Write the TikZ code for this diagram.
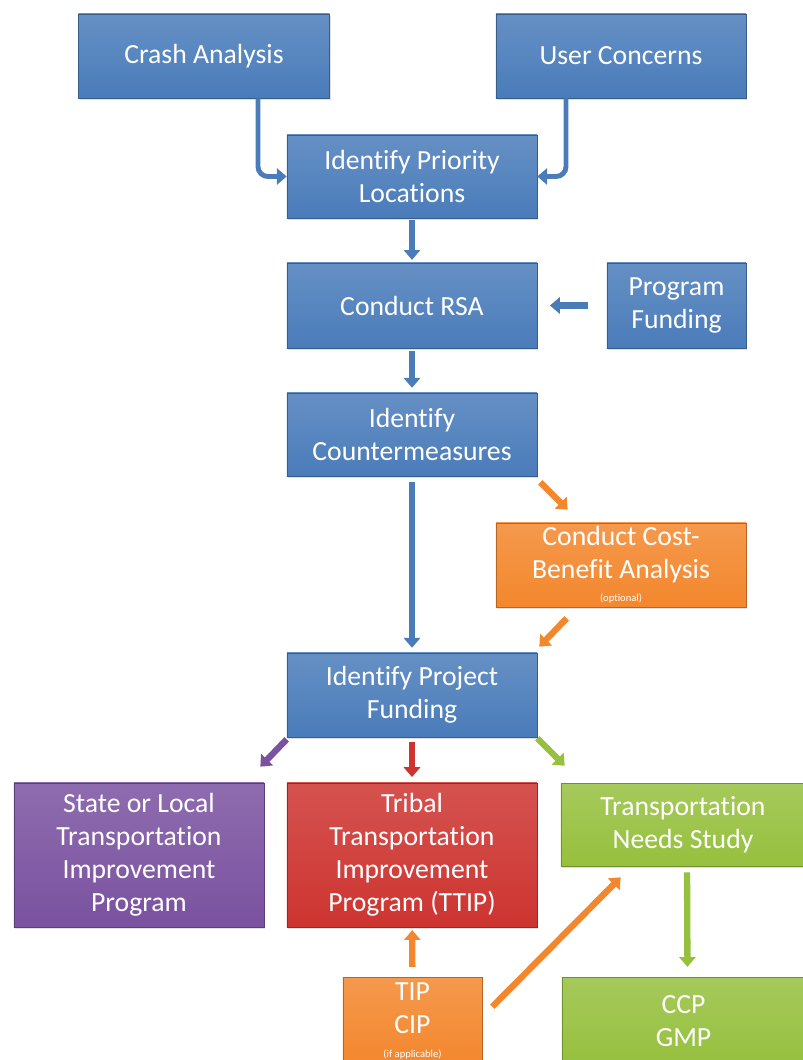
\documentclass[tikz,border=0pt]{standalone}
\usepackage{fontspec}
\setmainfont{Carlito}[Ligatures=NoCommon]
\usepackage{xcolor}
\usetikzlibrary{arrows.meta,shadows}
\definecolor{fblue}{RGB}{74,124,186}
\definecolor{forange}{RGB}{243,135,45}
\definecolor{fred}{RGB}{205,52,48}
\definecolor{fpurple}{RGB}{122,82,160}
\definecolor{fgreen}{RGB}{150,192,62}
\newcommand{\smalltext}{\fontsize{7.5}{8}\selectfont}

\begin{document}
\begin{tikzpicture}[x=0.025cm,y=-0.025cm,
  blockbox/.style={draw=#1!75!black, top color=#1!85!white, bottom color=#1, text=white, align=center, inner sep=0pt,
    font=\fontsize{19.7}{23.5}\selectfont, drop shadow={opacity=0.25,shadow xshift=1pt,shadow yshift=-1.5pt}},
  arr/.style={line width=4.5pt, draw=#1, -{Triangle[length=7pt,width=11.5pt]}}]
\useasboundingbox (0,0) rectangle (803,1060);
\clip (0,0) rectangle (803,1060);
% top rows
\node[blockbox=fblue, minimum width=6.275cm, minimum height=2.1cm] (crash) at (204,56) {Crash Analysis};
\node[blockbox=fblue, minimum width=6.25cm, minimum height=2.1cm] (user) at (621,56) {User Concerns};
\node[blockbox=fblue, minimum width=6.25cm, minimum height=2.075cm] (priority) at (412,176.5) {Identify Priority\\Locations};
\node[blockbox=fblue, minimum width=6.25cm, minimum height=2.125cm] (rsa) at (412,305.5) {Conduct RSA};
\node[blockbox=fblue, minimum width=3.475cm, minimum height=2.125cm] (progfund) at (676.5,305.5) {Program\\Funding};
\node[blockbox=fblue, minimum width=6.25cm, minimum height=2.075cm] (counter) at (412,434.5) {Identify\\Countermeasures};
\node[blockbox=forange, minimum width=6.25cm, minimum height=2.1cm] (cba) at (621,565) {Conduct Cost-\\Benefit Analysis\\[-7pt]{\smalltext (optional)}};
\node[blockbox=fblue, minimum width=6.25cm, minimum height=2.1cm] (projfund) at (412,695) {Identify Project\\Funding};
% programs
\node[blockbox=fpurple, minimum width=6.25cm, minimum height=3.6cm] (state) at (139,855) {State or Local\\Transportation\\Improvement\\Program};
\node[blockbox=fred, minimum width=6.25cm, minimum height=3.6cm] (ttip) at (412,855) {Tribal\\Transportation\\Improvement\\Program (TTIP)};
\node[blockbox=fgreen, minimum width=6.1cm, minimum height=2.075cm] (needs) at (683,824.5) {Transportation\\Needs Study};
\node[blockbox=forange, minimum width=3.475cm, minimum height=2.2cm] (tip) at (412.5,1021) {TIP\\CIP\\[-7pt]{\smalltext (if applicable)}};
\node[blockbox=fgreen, minimum width=6.075cm, minimum height=2.2cm] (ccp) at (683.5,1021) {CCP\\GMP};
% arrows
\draw[arr=fblue, line width=3.5pt, rounded corners=7pt] ([xshift=1.35cm]crash.south) |- (priority.west);
\draw[arr=fblue, line width=3.5pt, rounded corners=7pt] ([xshift=-1.375cm]user.south) |- (priority.east);
\draw[arr=fblue, shorten <=1.5pt, shorten >=2pt] (priority) -- (rsa);
\draw[arr=fblue, shorten <=13.5pt, shorten >=9pt] (progfund) -- (rsa);
\draw[arr=fblue, shorten <=2pt, shorten >=3.5pt] (rsa) -- (counter);
\draw[arr=fblue, shorten <=4pt, shorten >=3.5pt] (counter) -- (projfund);
\draw[arr=forange] ([shift={(3,6)}]counter.south east) -- ([shift={(72,-13)}]cba.north west);
\draw[arr=forange] ([shift={(71,11)}]cba.south west) -- ([shift={(2,-6)}]projfund.north east);
\draw[arr=fpurple] ([shift={(0,2)}]projfund.south west) -- ([shift={(-4,-16)}]state.north east);
\draw[arr=fred, shorten <=3.5pt, shorten >=4pt] (projfund) -- (ttip);
\draw[arr=fgreen] ([shift={(0,1)}]projfund.south east) -- ([shift={(4,-17)}]needs.north west);
\draw[arr=forange, shorten <=7pt, shorten >=2pt] (tip) -- (ttip);
\draw[arr=forange] ([shift={(10,30)}]tip.north east) -- ([shift={(60,11)}]needs.south west);
\draw[arr=fgreen, shorten <=4.3pt, shorten >=7pt] ([xshift=0.1cm]needs.south) -- ([xshift=0.1cm]ccp.north);
\end{tikzpicture}
\end{document}
